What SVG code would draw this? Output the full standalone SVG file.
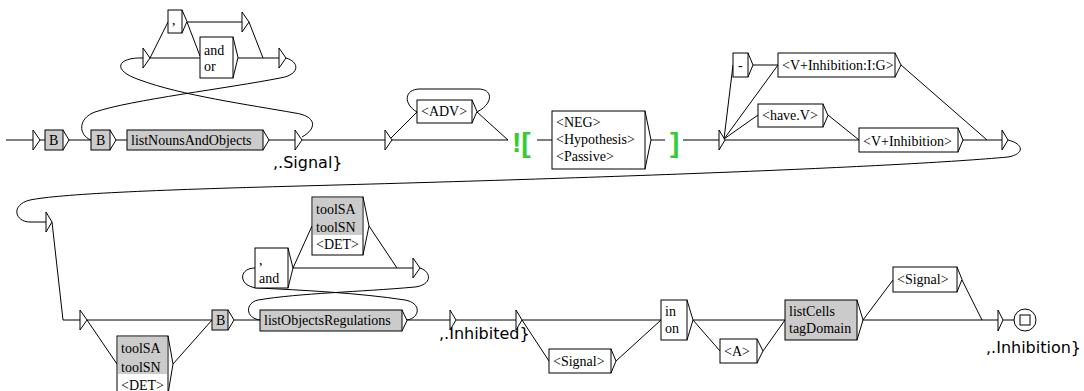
<svg xmlns="http://www.w3.org/2000/svg" width="1084" height="391" viewBox="0 0 1084 391">
<style>
.bx{fill:#fff;stroke:#000;stroke-width:1}
.gb{fill:#cbcbcb;stroke:#000;stroke-width:1}
.gf{fill:#cbcbcb;stroke:none}
.tr{fill:#fff;stroke:#000;stroke-width:1}
.t{font-family:"Liberation Serif",serif;font-size:14px;fill:#000}
.lbl{font-family:"DejaVu Sans",sans-serif;font-size:16px;fill:#000}
.gr{font-family:"Liberation Sans",sans-serif;font-weight:bold;font-size:28px;fill:#33cc33}
.c{fill:none;stroke:#000;stroke-width:1}
</style>
<rect width="1084" height="391" fill="#fff"/>
<g id="connectors">
<path class="c" d="M6,140H33M40,140H45M69,140H91M116,140H127M269,140H295M302,140H385M392,140H508"/>
<path class="c" d="M390,139L417,112M477,112L508,140"/>
<path class="c" d="M477,112C493,104 494,89 478,89L420,89C404,89 403,104 417,112"/>
<path class="c" d="M537,140H552M651,140H665M683,140H719"/>
<path class="c" d="M150,58H200M238,58H279M150,58L168,22M187,22H242M187,22L200,56M249,22L263,58"/>
<path class="c" d="M302,137C318,128 316,116 295,113C250,105 180,95 140,80C110,70 118,57 143,58"/>
<path class="c" d="M286,58C300,62 300,75 280,78C230,88 130,100 95,112C78,118 78,135 91,140"/>
<path class="c" d="M724,139L733,65M724,139L778,65M724,139L758,115M725,140H859M753,65H778M828,115L859,140M901,65L987,140M963,140H1002"/>
<path class="c" d="M1008,140C1024,144 1025,154 1008,157C900,167 600,178 300,186C150,190 60,194 30,200C10,205 15,222 30,222L46,222"/>
<path class="c" d="M52,222L63,320H80M87,320H212M87,320L117,364M173,364L212,320M234,320H260M407,320H450M456,320H516M522,320H661"/>
<path class="c" d="M293,268L312,226M293,268H413M369,226L397,268"/>
<path class="c" d="M420,268C432,272 432,285 415,287C360,292 300,293 258,300C245,303 245,318 260,320"/>
<path class="c" d="M407,320C420,318 422,303 405,300C360,293 300,290 258,288C238,287 238,268 255,268"/>
<path class="c" d="M522,320L549,361M616,361L661,320M693,320H785M693,320L720,351M763,351L785,320"/>
<path class="c" d="M863,320L893,280M863,320H998M962,280L982,320M1003,320H1014"/>
</g>
<g id="n0"><path class="tr" d="M33,130L40,140L33,150Z"/></g>
<g id="b1"><rect class="gb" x="45" y="130" width="18" height="20"/><path class="c" d="M63,130L69,140L63,150"/><text class="t" x="49" y="145">B</text></g>
<g id="b2"><rect class="gb" x="91" y="130" width="19" height="20"/><path class="c" d="M110,130L116,140L110,150"/><text class="t" x="96" y="145">B</text></g>
<g id="listNouns"><rect class="gb" x="127" y="130" width="136" height="20"/><path class="c" d="M263,130L269,140L263,150"/><text class="t" x="131" y="145">listNounsAndObjects</text></g>
<g id="n1"><path class="tr" d="M295,130L302,140L295,150Z"/></g>
<g id="u1"><path class="tr" d="M143,48L150,58L143,68Z"/></g>
<g id="comma"><rect class="bx" x="168" y="10" width="14" height="23"/><path class="c" d="M182,10L187,21.5L182,33"/><text class="t" x="172" y="25">,</text></g>
<g id="andor"><rect class="bx" x="200" y="37" width="33" height="41"/><path class="c" d="M233,37L238,57.5L233,78"/><text class="t" x="204" y="55">and</text><text class="t" x="204" y="71">or</text></g>
<g id="u3"><path class="tr" d="M242,12L249,22L242,32Z"/></g>
<g id="u2"><path class="tr" d="M279,48L286,58L279,68Z"/></g>
<g id="n2"><path class="tr" d="M385,130L392,140L385,150Z"/></g>
<g id="adv"><rect class="bx" x="417" y="100" width="55" height="23"/><path class="c" d="M472,100L477,111.5L472,123"/><text class="t" x="421" y="116">&lt;ADV&gt;</text></g>
<g id="ctxStart"><text class="gr" x="512" y="152">![</text></g>
<g id="neg"><rect class="bx" x="552" y="111" width="93" height="58"/><path class="c" d="M645,111L651,140L645,169"/><text class="t" x="556" y="127">&lt;NEG&gt;</text><text class="t" x="556" y="144">&lt;Hypothesis&gt;</text><text class="t" x="556" y="161">&lt;Passive&gt;</text></g>
<g id="ctxEnd"><text class="gr" x="670" y="152">]</text></g>
<g id="n3"><path class="tr" d="M719,130L725,140L719,150Z"/></g>
<g id="dash"><rect class="bx" x="733" y="53" width="15" height="24"/><path class="c" d="M748,53L753,65L748,77"/><text class="t" x="738" y="70">-</text></g>
<g id="vig"><rect class="bx" x="778" y="53" width="117" height="24"/><path class="c" d="M895,53L901,65L895,77"/><text class="t" x="782" y="70">&lt;V+Inhibition:I:G&gt;</text></g>
<g id="have"><rect class="bx" x="758" y="104" width="65" height="23"/><path class="c" d="M823,104L828,115.5L823,127"/><text class="t" x="762" y="120">&lt;have.V&gt;</text></g>
<g id="vinh"><rect class="bx" x="859" y="128" width="99" height="24"/><path class="c" d="M958,128L963,140L958,152"/><text class="t" x="863" y="146">&lt;V+Inhibition&gt;</text></g>
<g id="n4"><path class="tr" d="M1002,130L1008,140L1002,150Z"/></g>
<g id="sigLabel"><text class="lbl" x="273" y="168">,.Signal}</text></g>
<g id="n5"><path class="tr" d="M46,212L52,222L46,232Z"/></g>
<g id="n6"><path class="tr" d="M80,310L87,320L80,330Z"/></g>
<g id="toolL"><rect class="bx" x="117" y="336" width="51" height="58"/><rect class="gf" x="118" y="337" width="49" height="37"/><path class="c" d="M168,336L173,364L168,394"/><text class="t" x="121" y="353">toolSA</text><text class="t" x="121" y="372">toolSN</text><text class="t" x="121" y="390">&lt;DET&gt;</text></g>
<g id="b3"><rect class="gb" x="212" y="310" width="16" height="20"/><path class="c" d="M228,310L234,320L228,330"/><text class="t" x="216" y="325">B</text></g>
<g id="listObj"><rect class="gb" x="260" y="310" width="142" height="21"/><path class="c" d="M402,310L407,320.5L402,331"/><text class="t" x="264" y="325">listObjectsRegulations</text></g>
<g id="commaand"><rect class="bx" x="255" y="248" width="33" height="40"/><path class="c" d="M288,248L293,268L288,288"/><text class="t" x="259" y="265">,</text><text class="t" x="259" y="283">and</text></g>
<g id="toolU"><rect class="bx" x="312" y="197" width="51" height="58"/><rect class="gf" x="313" y="198" width="49" height="37"/><path class="c" d="M363,197L369,226L363,255"/><text class="t" x="316" y="214">toolSA</text><text class="t" x="316" y="232">toolSN</text><text class="t" x="316" y="249">&lt;DET&gt;</text></g>
<g id="n9"><path class="tr" d="M413,258L420,268L413,278Z"/></g>
<g id="n7"><path class="tr" d="M450,310L456,320L450,330Z"/></g>
<g id="inhibitedLabel"><text class="lbl" x="439" y="339">,.Inhibited}</text></g>
<g id="n8"><path class="tr" d="M516,310L522,320L516,330Z"/></g>
<g id="sigL"><rect class="bx" x="549" y="349" width="62" height="24"/><path class="c" d="M611,349L616,361L611,373"/><text class="t" x="553" y="366">&lt;Signal&gt;</text></g>
<g id="inon"><rect class="bx" x="661" y="300" width="26" height="40"/><path class="c" d="M687,300L693,320L687,340"/><text class="t" x="665" y="316">in</text><text class="t" x="665" y="333">on</text></g>
<g id="adj"><rect class="bx" x="720" y="339" width="37" height="24"/><path class="c" d="M757,339L763,351L757,363"/><text class="t" x="724" y="356">&lt;A&gt;</text></g>
<g id="cells"><rect class="gb" x="785" y="300" width="72" height="40"/><path class="c" d="M857,300L863,320L857,340"/><text class="t" x="789" y="316">listCells</text><text class="t" x="789" y="333">tagDomain</text></g>
<g id="sigU"><rect class="bx" x="893" y="267" width="64" height="25"/><path class="c" d="M957,267L962,279.5L957,292"/><text class="t" x="897" y="284">&lt;Signal&gt;</text></g>
<g id="n10"><path class="tr" d="M998,310L1003,320L998,331Z"/></g>
<g id="final"><circle class="bx" cx="1025" cy="320" r="11"/><rect class="bx" x="1020" y="315" width="10" height="10"/></g>
<g id="inhibitionLabel"><text class="lbl" x="986" y="353">,.Inhibition}</text></g>
</svg>
